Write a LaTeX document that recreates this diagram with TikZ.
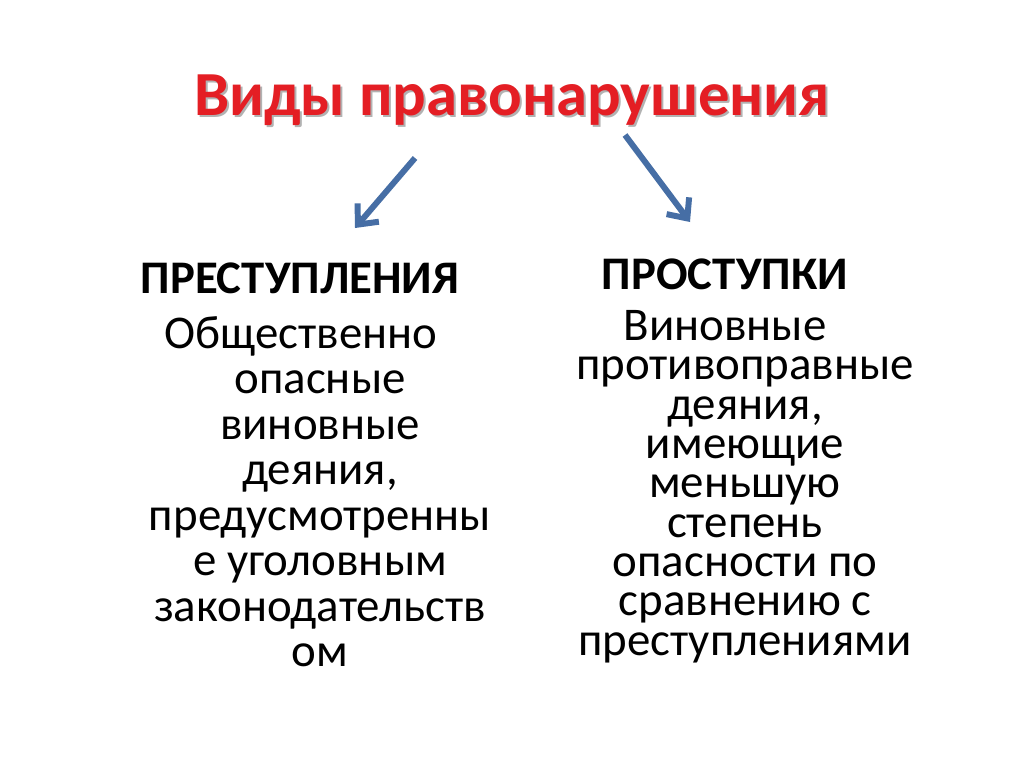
\documentclass[tikz,border=0pt]{standalone}
\usepackage{fontspec}
\setmainfont{Carlito}
\usetikzlibrary{arrows.meta}
\definecolor{titlered}{RGB}{228,30,36}
\definecolor{arrowblue}{RGB}{70,110,165}
\begin{document}
\begin{tikzpicture}[x=0.02cm,y=-0.02cm,
  heading/.style={font=\fontsize{26.6}{30}\selectfont\bfseries},
  body/.style={font=\fontsize{26.7}{25.9}\selectfont,align=center},
  link/.style={arrowblue,line width=3.4pt,-{Straight Barb[length=9pt,width=16pt]}}]
\useasboundingbox[fill=white] (0,0) rectangle (1024,767);
% title with shadow
\node[font=\fontsize{35.7}{40}\selectfont\bfseries,text=black!30] at (514,102) {Виды правонарушения};
\node (title) [font=\fontsize{35.7}{40}\selectfont\bfseries,text=titlered] at (512,100) {Виды правонарушения};
\node (crime) [heading] at (300,278) {ПРЕСТУПЛЕНИЯ};
\node (misd) [heading] at (725,274) {ПРОСТУПКИ};
\node (crimetext) [body,anchor=north] at (320,310) {\hspace*{-21.5pt}Общественно\\опасные\\виновные\\деяния,\\предусмотренны\\е уголовным\\законодательств\\ом};
\node (misdtext) [body,font=\fontsize{26.7}{22.4}\selectfont,anchor=north] at (745,304) {\hspace*{-22.7pt}Виновные\\противоправные\\деяния,\\имеющие\\меньшую\\степень\\опасности по\\сравнению с\\преступлениями};
\coordinate (la) at (415,158);
\coordinate (lb) at (355,228);
\coordinate (ra) at (625,135);
\coordinate (rb) at (690,222);
\draw[link] (la) -- (lb);
\draw[link] (ra) -- (rb);
\end{tikzpicture}
\end{document}
